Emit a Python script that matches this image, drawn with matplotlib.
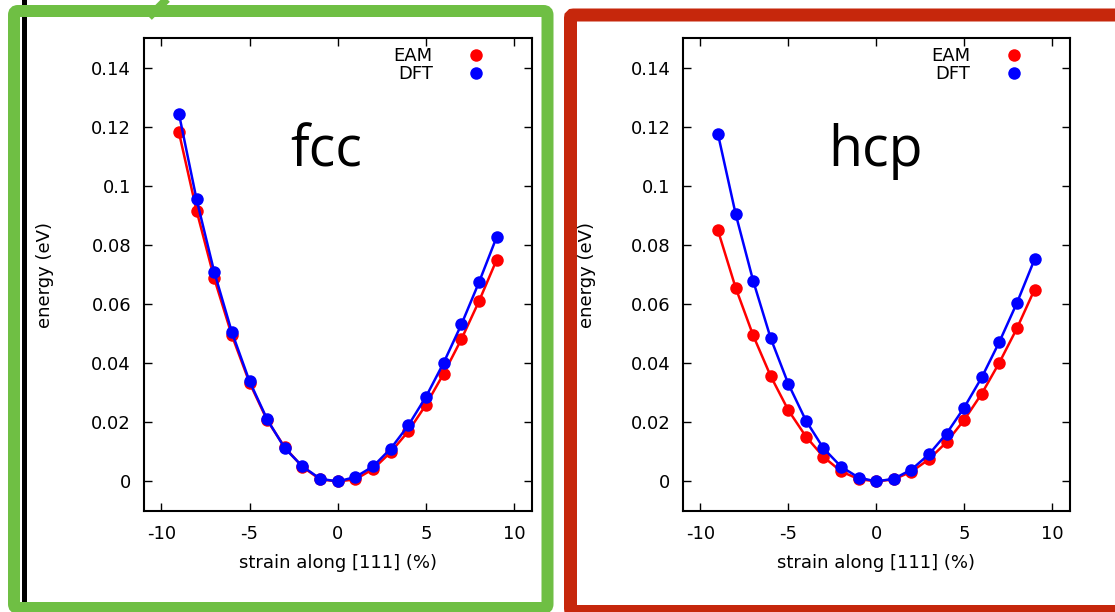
import matplotlib
matplotlib.use('Agg')
import matplotlib.pyplot as plt
from matplotlib.patches import FancyBboxPatch
from matplotlib.lines import Line2D
from matplotlib.transforms import IdentityTransform
from matplotlib.ticker import FuncFormatter

# ---------------- data ----------------
strain = [-9, -8, -7, -6, -5, -4, -3, -2, -1, 0, 1, 2, 3, 4, 5, 6, 7, 8, 9]

fcc_eam = [0.1181, 0.0916, 0.0687, 0.0494, 0.0334, 0.0207, 0.0115, 0.0049, 0.0007, 0.0,
           0.0007, 0.0042, 0.0099, 0.0170, 0.0260, 0.0365, 0.0481, 0.0610, 0.0750]
fcc_dft = [0.1244, 0.0954, 0.0709, 0.0505, 0.0339, 0.0210, 0.0112, 0.0051, 0.0009, 0.0,
           0.0015, 0.0051, 0.0111, 0.0190, 0.0287, 0.0402, 0.0531, 0.0674, 0.0827]

hcp_eam = [0.0849, 0.0656, 0.0494, 0.0356, 0.0241, 0.0152, 0.0083, 0.0034, 0.0008, 0.0,
           0.0007, 0.0033, 0.0075, 0.0133, 0.0208, 0.0297, 0.0402, 0.0518, 0.0649]
hcp_dft = [0.1175, 0.0906, 0.0679, 0.0484, 0.0330, 0.0206, 0.0112, 0.0050, 0.0013, 0.0,
           0.0009, 0.0040, 0.0092, 0.0162, 0.0250, 0.0352, 0.0472, 0.0604, 0.0751]

panel_titles = ['fcc', 'hcp']
series_labels = ['EAM', 'DFT']
x_ticks = [-10, -5, 0, 5, 10]
y_ticks = [0, 0.02, 0.04, 0.06, 0.08, 0.10, 0.12, 0.14]
x_label = 'strain along [111] (%)'
y_label = 'energy (eV)'

# ---------------- figure ----------------
W, H = 1115, 612
DPI = 100
PT = 72.0 / DPI  # pixels -> points
fig = plt.figure(figsize=(W / DPI, H / DPI), dpi=DPI)
fig.patch.set_facecolor('white')

GREEN = '#6fbf44'
RED_FRAME = '#c6270c'
C_EAM = '#ff0000'
C_DFT = '#0000ff'

# black vertical line (behind the green frame)
fig.add_artist(Line2D([23.5, 23.5], [H + 2, H - 604], transform=IdentityTransform(),
                      color='black', lw=5 * PT, zorder=0.5, solid_capstyle='butt'))
# green frame
fig.add_artist(FancyBboxPatch((14, H - 608), 533.5, 597,
                              boxstyle='round,pad=0,rounding_size=4',
                              transform=IdentityTransform(), fill=False,
                              ec=GREEN, lw=12 * PT, zorder=1))
# green callout tail
fig.add_artist(Line2D([149, 169], [H - 17, H + 3], transform=IdentityTransform(),
                      color=GREEN, lw=8 * PT, zorder=1, solid_capstyle='butt'))
# red frame
fig.add_artist(FancyBboxPatch((570.5, H - 611.5), 560, 596.5,
                              boxstyle='round,pad=0,rounding_size=3',
                              transform=IdentityTransform(), fill=False,
                              ec=RED_FRAME, lw=13 * PT, zorder=1))
fig.add_artist(Line2D([1117, 1117], [H + 2, -2], transform=IdentityTransform(),
                      color=RED_FRAME, lw=13 * PT, zorder=1, solid_capstyle='butt'))

panels = [
    dict(pos=[143.6 / W, 1 - 511 / H, (532 - 143.6) / W, (511 - 38) / H],
         eam=fcc_eam, dft=fcc_dft, title=panel_titles[0], tx=0.47, ylx=-0.231),
    dict(pos=[682.8 / W, 1 - 511 / H, (1069.7 - 682.8) / W, (511 - 38) / H],
         eam=hcp_eam, dft=hcp_dft, title=panel_titles[1], tx=0.498, ylx=-0.2256),
]

FS = 13
MS = 9
for p in panels:
    ax = fig.add_axes(p['pos'])
    ax.set_zorder(2)
    ax.plot(strain, p['eam'], '-', color=C_EAM, lw=1.8)
    ax.plot(strain, p['eam'], 'o', color=C_EAM, ms=MS, mec='none')
    ax.plot(strain, p['dft'], '-', color=C_DFT, lw=1.8)
    ax.plot(strain, p['dft'], 'o', color=C_DFT, ms=MS, mec='none')

    ax.set_xlim(-11, 11)
    ax.set_ylim(-0.01, 0.15)
    ax.set_xticks(x_ticks)
    ax.set_yticks(y_ticks)
    ax.yaxis.set_major_formatter(FuncFormatter(lambda v, pos: f'{v:g}'))
    ax.xaxis.set_major_formatter(FuncFormatter(lambda v, pos: f'{v:g}'))
    ax.tick_params(direction='in', length=5.5, width=1, top=True, right=True,
                   labelsize=FS, colors='black')
    ax.tick_params(axis='y', pad=9)
    ax.tick_params(axis='x', pad=10)
    for s in ax.spines.values():
        s.set_linewidth(1.5)
        s.set_color('black')

    ax.set_xlabel(x_label, fontsize=FS)
    ax.xaxis.set_label_coords(0.5, -0.091)
    ax.set_ylabel(y_label, fontsize=FS)
    ax.yaxis.set_label_coords(p['ylx'], 0.5)

    ax.text(p['tx'], 0.729, p['title'], transform=ax.transAxes, ha='center',
            va='baseline', fontsize=40, family='Open Sans', color='black')

    handles = [Line2D([], [], ls='none', marker='o', color=C_EAM, ms=MS, mec='none'),
               Line2D([], [], ls='none', marker='o', color=C_DFT, ms=MS, mec='none')]
    ax.legend(handles, series_labels, loc='upper right', bbox_to_anchor=(0.879, 0.98),
              frameon=False, markerfirst=False, fontsize=FS, handlelength=1.0,
              handletextpad=1.9, labelspacing=0.0, borderpad=0, borderaxespad=0)

fig.savefig('out.png', dpi=DPI, facecolor='white')
